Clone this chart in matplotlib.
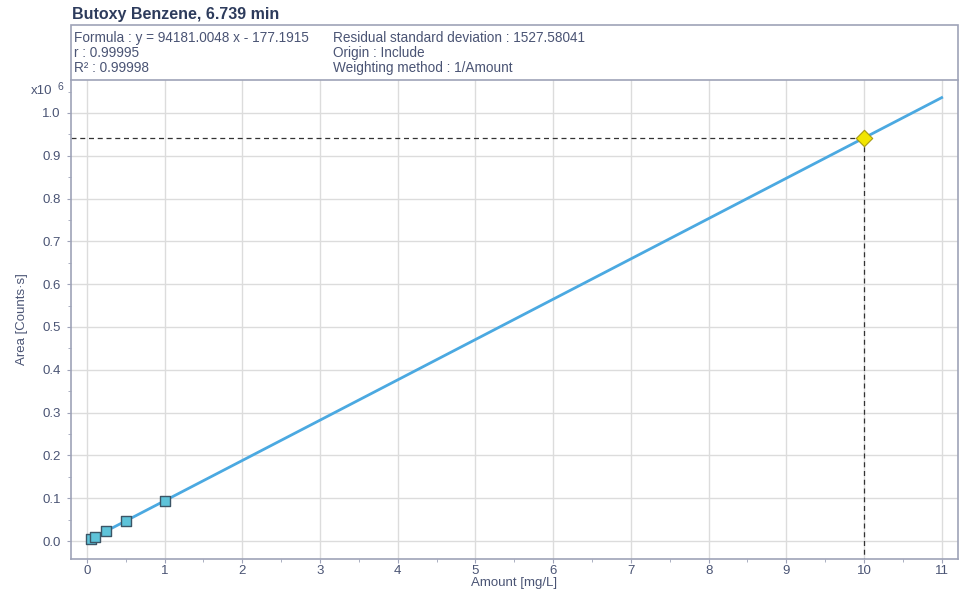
import matplotlib
matplotlib.use("Agg")
import matplotlib.pyplot as plt
from matplotlib.patches import Rectangle
from matplotlib.ticker import MultipleLocator, FuncFormatter

plt.rcParams['font.family'] = ['Liberation Sans', 'DejaVu Sans']

title = "Butoxy Benzene, 6.739 min"
info_left = ["Formula : y = 94181.0048 x - 177.1915", "r : 0.99995", "R\u00b2 : 0.99998"]
info_right = ["Residual standard deviation : 1527.58041", "Origin : Include", "Weighting method : 1/Amount"]

cal_x = [0.05, 0.1, 0.25, 0.5, 1.0]
cal_y = [4600, 9300, 23400, 46900, 94000]
fit_x = [0.05, 11.0]
fit_y = [4530, 1035800]
target_x = 10.0
target_y = 941600

x_ticks = list(range(0, 12))
y_ticks = [i / 10 for i in range(0, 11)]

W, H = 963, 592
fig = plt.figure(figsize=(W / 100, H / 100), dpi=100)
ax = fig.add_axes([71 / W, 1 - 559 / H, (958 - 71) / W, (559 - 80) / H])

tick_col = "#4a5474"
spine_col = "#9ea3b8"
grid_col = "#dcdcdc"

scale = 1e6
ax.plot(fit_x, [v / scale for v in fit_y], color="#4ba9e1", lw=2, zorder=3)
ax.scatter(cal_x, [v / scale for v in cal_y], marker="s", s=60, facecolor="#5ec3d9",
           edgecolor="#3c5566", linewidth=1, zorder=4)
xmin, xmax = -0.205, 11.21
ymin, ymax = -0.042, 1.077
ax.plot([xmin, target_x], [target_y / scale] * 2, color="#333333", lw=0.9, ls=(0, (4, 3)), zorder=2)
ax.plot([target_x, target_x], [target_y / scale, ymin], color="#333333", lw=0.9, ls=(0, (4, 3)), zorder=2)
ax.scatter([target_x], [target_y / scale], marker="D", s=70, facecolor="#f2e500",
           edgecolor="#a89a10", linewidth=0.8, zorder=5)

ax.set_xlim(xmin, xmax)
ax.set_ylim(ymin, ymax)
ax.set_xticks(x_ticks)
ax.set_yticks(y_ticks)
ax.yaxis.set_major_formatter(FuncFormatter(lambda v, p: f"{v:.1f}"))
ax.xaxis.set_minor_locator(MultipleLocator(0.5))
ax.yaxis.set_minor_locator(MultipleLocator(0.05))
ax.grid(True, which="major", color=grid_col, lw=1, zorder=0)
ax.set_axisbelow(True)
ax.tick_params(which="major", length=3, color=spine_col, labelcolor=tick_col, labelsize=9.5)
ax.tick_params(axis="x", which="major", pad=1.5)
ax.tick_params(axis="y", which="major", pad=4.5)
ax.tick_params(which="minor", length=2.5, color=spine_col)
for s in ["left", "bottom", "right"]:
    ax.spines[s].set_color(spine_col)
    ax.spines[s].set_linewidth(1.2)
ax.spines["top"].set_visible(False)

ax.set_xlabel("Amount [mg/L]", color=tick_col, fontsize=9.5, labelpad=-0.5)
ax.set_ylabel("Area [Counts\u00b7s]", color=tick_col, fontsize=9.5, labelpad=10)

fig.text(72 / W, 1 - 15 / H, title, fontsize=11.5, fontweight="bold", color="#2d3b5c", va="center", ha="left")
box = Rectangle((71 / W, 1 - 80 / H), (958 - 71) / W, (80 - 25) / H, transform=fig.transFigure,
                facecolor="white", edgecolor=spine_col, lw=1.2)
fig.patches.append(box)
ys = [38, 53, 68]
for t, y in zip(info_left, ys):
    fig.text(74 / W, 1 - y / H, t, fontsize=9.8, color="#4a5474", va="center", ha="left")
for t, y in zip(info_right, ys):
    fig.text(333 / W, 1 - y / H, t, fontsize=9.8, color="#4a5474", va="center", ha="left")

fig.text(52 / W, 1 - 91 / H, "x10", fontsize=9.5, color=tick_col, va="center", ha="right")
fig.text(57 / W, 1 - 87 / H, "6", fontsize=7.5, color=tick_col, va="center", ha="left")

fig.savefig("out.png", dpi=100)
